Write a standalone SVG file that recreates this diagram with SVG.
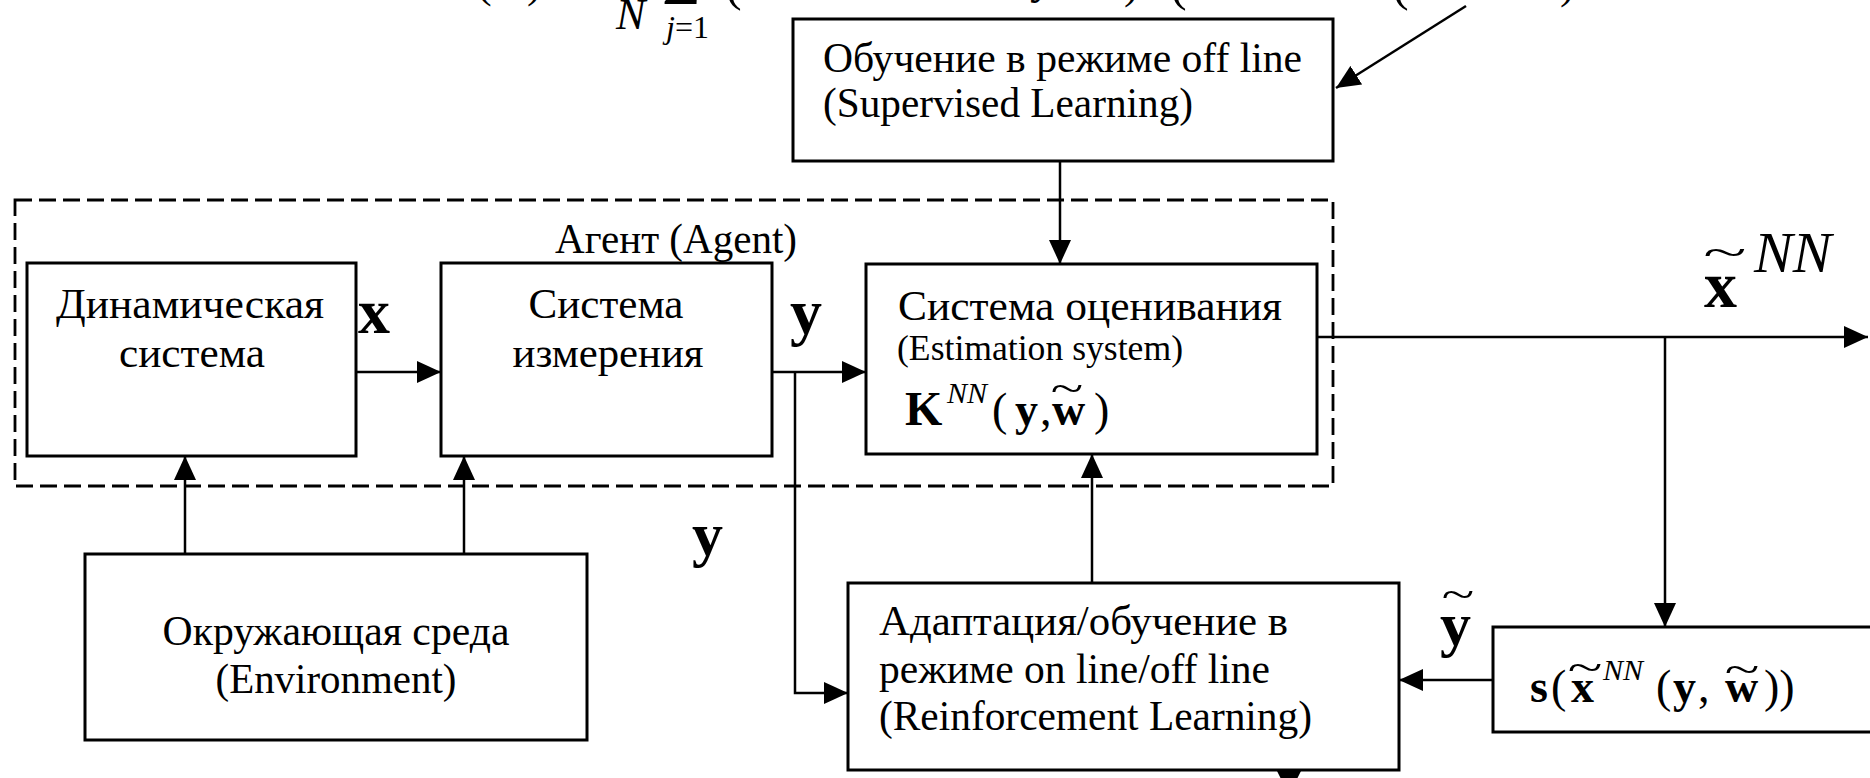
<svg xmlns="http://www.w3.org/2000/svg" width="1870" height="778" viewBox="0 0 1870 778">
  <defs>
    <marker id="arrow" viewBox="0 0 24 22" refX="24" refY="11" markerWidth="24" markerHeight="22" markerUnits="userSpaceOnUse" orient="auto">
      <path d="M0,0 L24,11 L0,22 z" fill="#000"/>
    </marker>
    <style>
      .box { fill: #fff; stroke: #000; stroke-width: 3; }
      .dash { fill: none; stroke: #000; stroke-width: 2.8; stroke-dasharray: 17 7; }
      .ln { fill: none; stroke: #000; stroke-width: 2.5; }
      .arr { marker-end: url(#arrow); }
      text { font-family: "Liberation Serif", "Times New Roman", serif; fill: #000; }
      .t { font-size: 42px; }
      .ts { font-size: 36px; }
      .b { font-weight: bold; }
      .i { font-style: italic; }
      .tl { font-size: 40px; text-anchor: middle; }
    </style>
  </defs>

  <rect width="1870" height="778" fill="#fff"/>

  <!-- lower part of the loss formula, cut by the top edge -->
  <g id="formula">
    <text x="477" y="-3" style="font-size:44px">(</text>
    <text x="527" y="-3" style="font-size:44px">)</text>
    <text x="616" y="29" class="i" style="font-size:44px">N</text>
    <text x="662" y="4" style="font-size:66px">Σ</text>
    <text x="666" y="38" style="font-size:32px"><tspan class="i">j</tspan>=1</text>
    <text x="725" y="0" style="font-size:50px">(</text>
    <text x="1030" y="-6" class="b" style="font-size:44px">y</text>
    <text x="1124" y="-2" style="font-size:44px">)</text>
    <text x="1170" y="0" style="font-size:50px">(</text>
    <text x="1392" y="0" style="font-size:50px">(</text>
    <text x="1560" y="-2" style="font-size:44px">)</text>
  </g>

  <!-- agent boundary -->
  <g id="agent">
    <rect class="dash" x="15" y="200" width="1318" height="286"/>
    <text class="t" x="676" y="253" text-anchor="middle" textLength="242" lengthAdjust="spacingAndGlyphs">Агент (Agent)</text>
  </g>

  <g id="supervised">
    <rect class="box" x="793" y="19" width="540" height="142"/>
    <text class="t" x="823" y="72" textLength="479" lengthAdjust="spacingAndGlyphs">Обучение в режиме off line</text>
    <text class="t" x="823" y="117" textLength="370" lengthAdjust="spacingAndGlyphs">(Supervised Learning)</text>
  </g>

  <g id="dynamic">
    <rect class="box" x="27" y="263" width="329" height="193"/>
    <text class="t" x="190" y="318" text-anchor="middle" textLength="268" lengthAdjust="spacingAndGlyphs">Динамическая</text>
    <text class="t" x="192" y="367" text-anchor="middle" textLength="146" lengthAdjust="spacingAndGlyphs">система</text>
  </g>

  <g id="measurement">
    <rect class="box" x="441" y="263" width="331" height="193"/>
    <text class="t" x="606" y="318" text-anchor="middle" textLength="155" lengthAdjust="spacingAndGlyphs">Система</text>
    <text class="t" x="608" y="367" text-anchor="middle" textLength="191" lengthAdjust="spacingAndGlyphs">измерения</text>
  </g>

  <g id="estimation">
    <rect class="box" x="866" y="264" width="451" height="190"/>
    <text class="t" x="898" y="320" textLength="384" lengthAdjust="spacingAndGlyphs">Система  оценивания</text>
    <text class="ts" x="897" y="360" textLength="286" lengthAdjust="spacingAndGlyphs">(Estimation system)</text>
    <text x="905" y="425" style="font-size:48px"><tspan class="b">K</tspan><tspan class="i" x="947" y="403" style="font-size:30px">NN</tspan><tspan x="992" y="425" style="font-size:46px">(</tspan><tspan class="b" x="1015" style="font-size:46px">y</tspan><tspan x="1040" style="font-size:46px">,</tspan><tspan class="b" x="1052" style="font-size:46px">w</tspan><tspan x="1094" style="font-size:46px">)</tspan></text>
    <text class="tl" transform="translate(1067 392) scale(1.5 1)" y="10">~</text>
  </g>

  <g id="environment">
    <rect class="box" x="85" y="554" width="502" height="186"/>
    <text class="t" x="336" y="645" text-anchor="middle" textLength="347" lengthAdjust="spacingAndGlyphs">Окружающая среда</text>
    <text class="t" x="336" y="693" text-anchor="middle" textLength="241" lengthAdjust="spacingAndGlyphs">(Environment)</text>
  </g>

  <g id="adaptation">
    <rect class="box" x="848" y="583" width="551" height="187"/>
    <text class="t" x="879" y="635" textLength="409" lengthAdjust="spacingAndGlyphs">Адаптация/обучение в</text>
    <text class="t" x="879" y="683" textLength="391" lengthAdjust="spacingAndGlyphs">режиме on line/off line</text>
    <text class="t" x="879" y="730" textLength="433" lengthAdjust="spacingAndGlyphs">(Reinforcement Learning)</text>
  </g>

  <g id="criterion">
    <rect class="box" x="1493" y="627" width="400" height="105"/>
    <text x="1530" y="702" style="font-size:46px"><tspan class="b">s</tspan><tspan x="1551">(</tspan><tspan class="b" x="1571">x</tspan><tspan class="i" x="1603" y="680" style="font-size:30px">NN</tspan><tspan x="1656" y="702">(</tspan><tspan class="b" x="1673">y</tspan><tspan x="1698">,</tspan><tspan class="b" x="1725">w</tspan><tspan x="1764">))</tspan></text>
    <text class="tl" transform="translate(1585 671) scale(1.6 1)" y="10">~</text>
    <text class="tl" transform="translate(1742 673) scale(1.6 1)" y="10">~</text>
  </g>

  <!-- signal labels -->
  <g id="labels">
    <text x="358" y="333" class="b" style="font-size:64px">x</text>
    <text x="790" y="333" class="b" style="font-size:64px">y</text>
    <text x="692" y="555" class="b" style="font-size:62px">y</text>
    <text x="1440" y="645" class="b" style="font-size:62px">y</text>
    <text class="tl" transform="translate(1458 598) scale(1.5 1)" y="10">~</text>
    <text x="1704" y="307" class="b" style="font-size:66px">x</text>
    <text class="tl" transform="translate(1725 256) scale(2 1)" y="10">~</text>
    <text x="1754" y="272" class="i" style="font-size:58px">NN</text>
  </g>

  <g id="connectors">
    <path class="ln arr" d="M1060,161 L1060,264"/>
    <path class="ln arr" d="M1466,6 L1336,88"/>
    <path class="ln arr" d="M356,372 L441,372"/>
    <path class="ln arr" d="M772,372 L866,372"/>
    <path class="ln arr" d="M795,372 L795,693 L848,693"/>
    <path class="ln arr" d="M185,554 L185,456"/>
    <path class="ln arr" d="M464,554 L464,456"/>
    <path class="ln arr" d="M1317,337 L1868,337"/>
    <path class="ln arr" d="M1665,337 L1665,627"/>
    <path class="ln arr" d="M1493,680 L1399,680"/>
    <path class="ln arr" d="M1092,583 L1092,454"/>
    <path d="M1277,771 L1301,771 L1289,795 z" fill="#000"/>
  </g>
</svg>
